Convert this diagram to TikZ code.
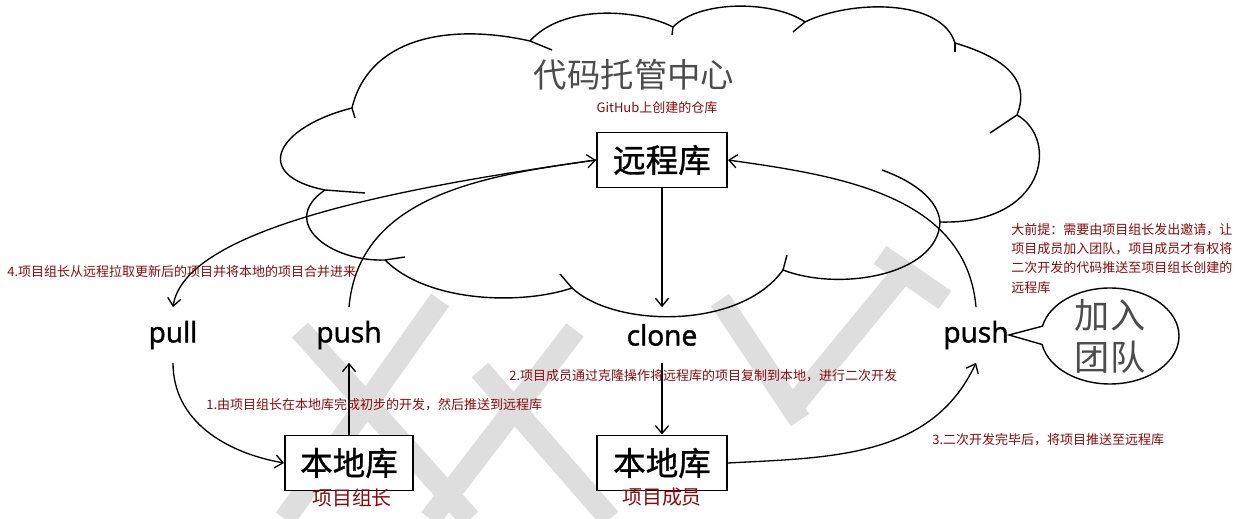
\documentclass[tikz,border=0pt]{standalone}
\usepackage{fontspec}
\setmainfont{Noto Sans CJK SC}
\newfontfamily\wordfont[FakeBold=1.5]{Open Sans}
\newfontfamily\boxfont[FakeBold=1]{Noto Sans CJK SC}
\usetikzlibrary{arrows.meta,shapes.callouts}
\definecolor{notered}{RGB}{139,10,10}
\definecolor{wmgray}{RGB}{222,222,222}

\begin{document}
\begin{tikzpicture}[x=0.02cm,y=-0.02cm,
  repo/.style={draw,line width=1.1pt,fill=white,minimum width=2.6cm,minimum height=1.1cm,inner sep=0pt,font=\boxfont\fontsize{18.5}{20}\selectfont},
  act/.style={inner sep=0pt,minimum height=1.1cm,font=\wordfont\fontsize{16}{18}\selectfont},
  note/.style={inner sep=0pt,text=notered,font=\fontsize{7.4}{11}\selectfont},
  who/.style={inner sep=0pt,text=notered,font=\fontsize{11.3}{13}\selectfont},
  link/.style={line width=0.75pt,-{Straight Barb[length=4.5pt,width=7.5pt]}},
  puff/.style={line width=0.8pt},
  wm/.style={wmgray,line width=0.44cm}]
\useasboundingbox[fill=white] (0,0) rectangle (1248,519);

% watermark
\foreach \xa/\ya/\xb/\yb in {300/330/470/519, 440/300/285/519, 480/370/610/519,
    575/330/430/519, 720/300/800/420, 790/410/905/270, 880/255/945/300}
  \draw[wm] (\xa,\ya) -- (\xb,\yb);

% Cloud
\draw[puff] (325,190)
  .. controls (250,175) and (277,127) .. (352,108)
  .. controls (368,40) and (445,22) .. (530,41)
  .. controls (562,5) and (635,8) .. (673,27)
  .. controls (701,-1) and (775,1) .. (805,22)
  .. controls (850,0) and (941,-2) .. (955,43)
  .. controls (995,55) and (1033,75) .. (1017,115)
  .. controls (1060,140) and (1045,225) .. (940,222)
  .. controls (938,275) and (840,292) .. (783,270)
  .. controls (740,330) and (615,328) .. (572,288)
  .. controls (522,305) and (428,303) .. (385,260)
  .. controls (330,262) and (278,222) .. (325,190);
\foreach \xa/\ya/\xb/\yb in {325/190/365/193, 352/108/355/118, 530/41/552/50,
    673/27/672/35, 805/22/793/32, 955/43/955/52, 1017/115/990/133,
    783/270/787/255, 572/288/560/274, 385/260/405/257}
  \draw[puff] (\xa,\ya) -- (\xb,\yb);
\draw[puff] (940,222) .. controls (938,200) and (915,182) .. (882,170);

\node[font=\fontsize{19}{22}\selectfont,text=black!70] (hub) at (634,75) {代码托管中心};
\node[note] (hubnote) at (657,108) {GitHub上创建的仓库};

% Repos
\node[repo] (remote) at (662,160) {远程库};
\node[repo,minimum width=2.56cm] (leadlocal) at (349,463) {本地库};
\node[repo] (memberlocal) at (662,463) {本地库};
\node[who] (lead) at (352,498) {项目组长};
\node[who] (member) at (662,497) {项目成员};

% Actions
\node[act] (pull) at (173,335) {pull};
\node[act] (pushA) at (349,335) {push};
\node[act] (clone) at (662,335) {clone};
\node[act] (pushB) at (976,335) {push};

\draw[link] (remote.west) .. controls (420,185) and (185,225) .. (pull.north);
\draw[link] (pull.south) to[out=-90,in=170] (leadlocal.west);
\draw[link] (leadlocal.north) -- (pushA.south);
\draw[link] (pushA.north) to[out=85,in=188] (remote.west);
\draw[link] (remote.south) -- (clone.north);
\draw[link] (clone.south) -- (memberlocal.north);
\draw[link] (memberlocal.east) to[out=3,in=245] (pushB.south);
\draw[link] (pushB.north) to[out=95,in=-8] (remote.east);

% Steps
\node[note,anchor=west] (step1) at (206,405) {1.由项目组长在本地库完成初步的开发，然后推送到远程库};
\node[note,anchor=west] (step2) at (509,376) {2.项目成员通过克隆操作将远程库的项目复制到本地，进行二次开发};
\node[note,anchor=west] (step3) at (932,440) {3.二次开发完毕后，将项目推送至远程库};
\node[note,anchor=west] (step4) at (7,272) {4.项目组长从远程拉取更新后的项目并将本地的项目合并进来};
\node[note,anchor=north west,align=left] (premise) at (1011,223)
  {大前提：需要由项目组长发出邀请，让\\项目成员加入团队，项目成员才有权将\\二次开发的代码推送至项目组长创建的\\远程库};

% Join bubble
\node[ellipse callout,draw,line width=0.8pt,fill=white,minimum width=2.76cm,minimum height=1.92cm,
  inner sep=0pt,callout absolute pointer={(pushB.east)},callout pointer arc=22] (join) at (1110,336) {};
\node[align=center,text=black!70,font=\fontsize{20}{24}\selectfont] (jointext) at (join.center) {加入\\团队};

\end{tikzpicture}
\end{document}
